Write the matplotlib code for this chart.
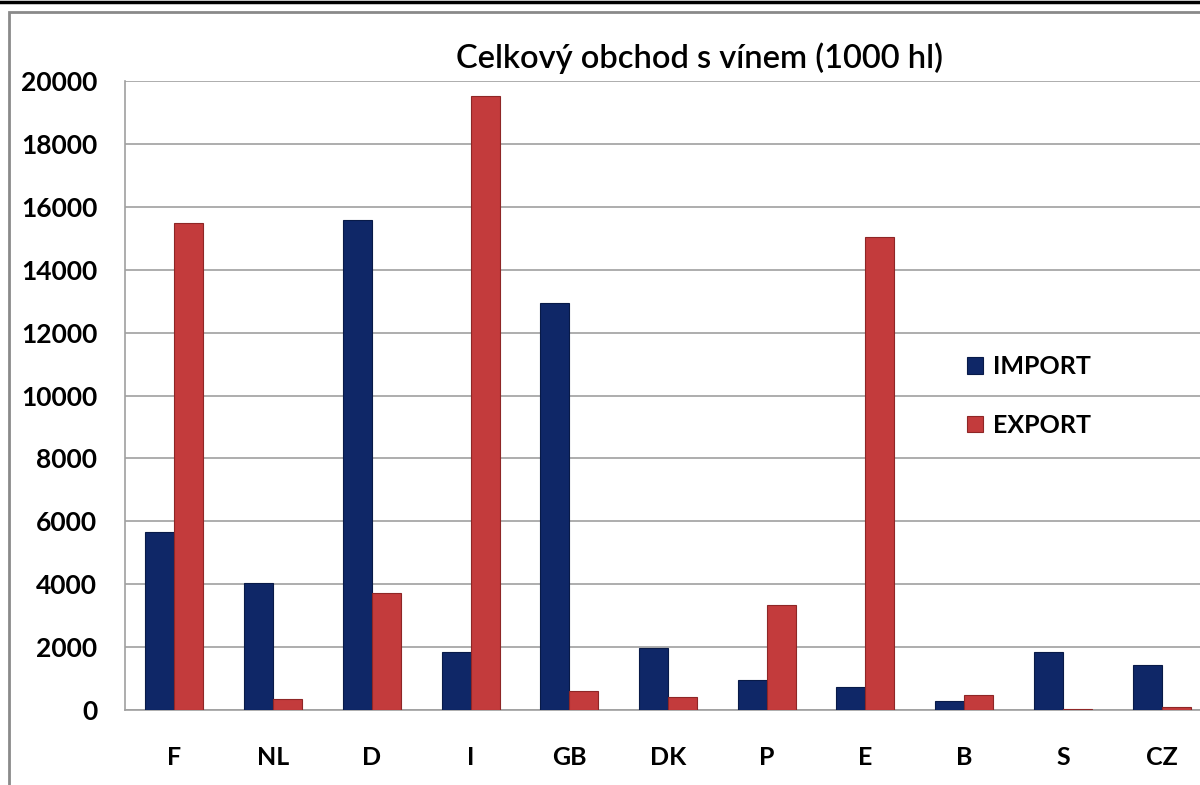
import numpy as np
import matplotlib
matplotlib.use("Agg")
import matplotlib.pyplot as plt
from matplotlib.lines import Line2D
from matplotlib.patches import Rectangle

fontname = "Lato"
plt.rcParams["font.family"] = [fontname, "DejaVu Sans"]

# data (1000 hl)
countries = ["F", "NL", "D", "I", "GB", "DK", "P", "E", "B", "S", "CZ"]
imports = [5650, 4040, 15580, 1840, 12940, 1970, 950, 730, 290, 1840, 1430]
exports = [15500, 350, 3720, 19520, 600, 410, 3340, 15040, 480, 30, 90]
y_ticks = [0, 2000, 4000, 6000, 8000, 10000, 12000, 14000, 16000, 18000, 20000]

import_color = "#0f2767"
export_color = "#c33b3c"

fig = plt.figure(figsize=(12, 7.85), dpi=100)
ax = fig.add_axes([125 / 1200, 1 - 710 / 785, 1086 / 1200, 629 / 785])

x = np.arange(len(countries))
bar_width = 0.294

ax.bar(x - bar_width / 2, imports, width=bar_width, color=import_color,
       edgecolor="#081a48", linewidth=0.8, label="IMPORT", zorder=3)
ax.bar(x + bar_width / 2, exports, width=bar_width, color=export_color,
       edgecolor="#8e2626", linewidth=0.8, label="EXPORT", zorder=3)

ax.set_xlim(-0.5, len(countries) - 0.5)
ax.set_ylim(0, 20000)
ax.set_yticks(y_ticks)
ax.set_yticklabels([str(v) for v in y_ticks], fontsize=19, fontweight="bold")
ax.set_xticks(x)
ax.set_xticklabels(countries, fontsize=18, fontweight="bold")
ax.tick_params(axis="y", length=0, pad=20)
ax.tick_params(axis="x", length=0, pad=26)

ax.grid(axis="y", color="#a0a0a0", linewidth=1.2, zorder=0)
for side in ["top", "right"]:
    ax.spines[side].set_visible(False)
ax.spines["left"].set_color("#a0a0a0")
ax.spines["bottom"].set_color("#a0a0a0")
ax.spines["left"].set_linewidth(1.2)
ax.spines["bottom"].set_linewidth(1.2)

fig.text(699 / 1200, 1 - 58 / 785, "Celkový obchod s vínem (1000 hl)",
         ha="center", va="center", fontsize=23.5, fontweight="semibold", color="black")

fig.legend(loc="center left", bbox_to_anchor=(944 / 1200, 1 - 396 / 785),
           frameon=False, prop={"family": fontname, "weight": "bold", "size": 18},
           handlelength=0.65, handleheight=0.65, handletextpad=0.4,
           labelspacing=1.42)

# chart frame
fig.add_artist(Line2D([0, 1], [1 - 1.5 / 785, 1 - 1.5 / 785], color="black", linewidth=2.5))
fig.add_artist(Rectangle((9 / 1200, -0.1), 1.2, 1.1 - 12 / 785, transform=fig.transFigure,
                         fill=False, edgecolor="#8a8a8a", linewidth=2))

plt.savefig("out.png", dpi=100)
